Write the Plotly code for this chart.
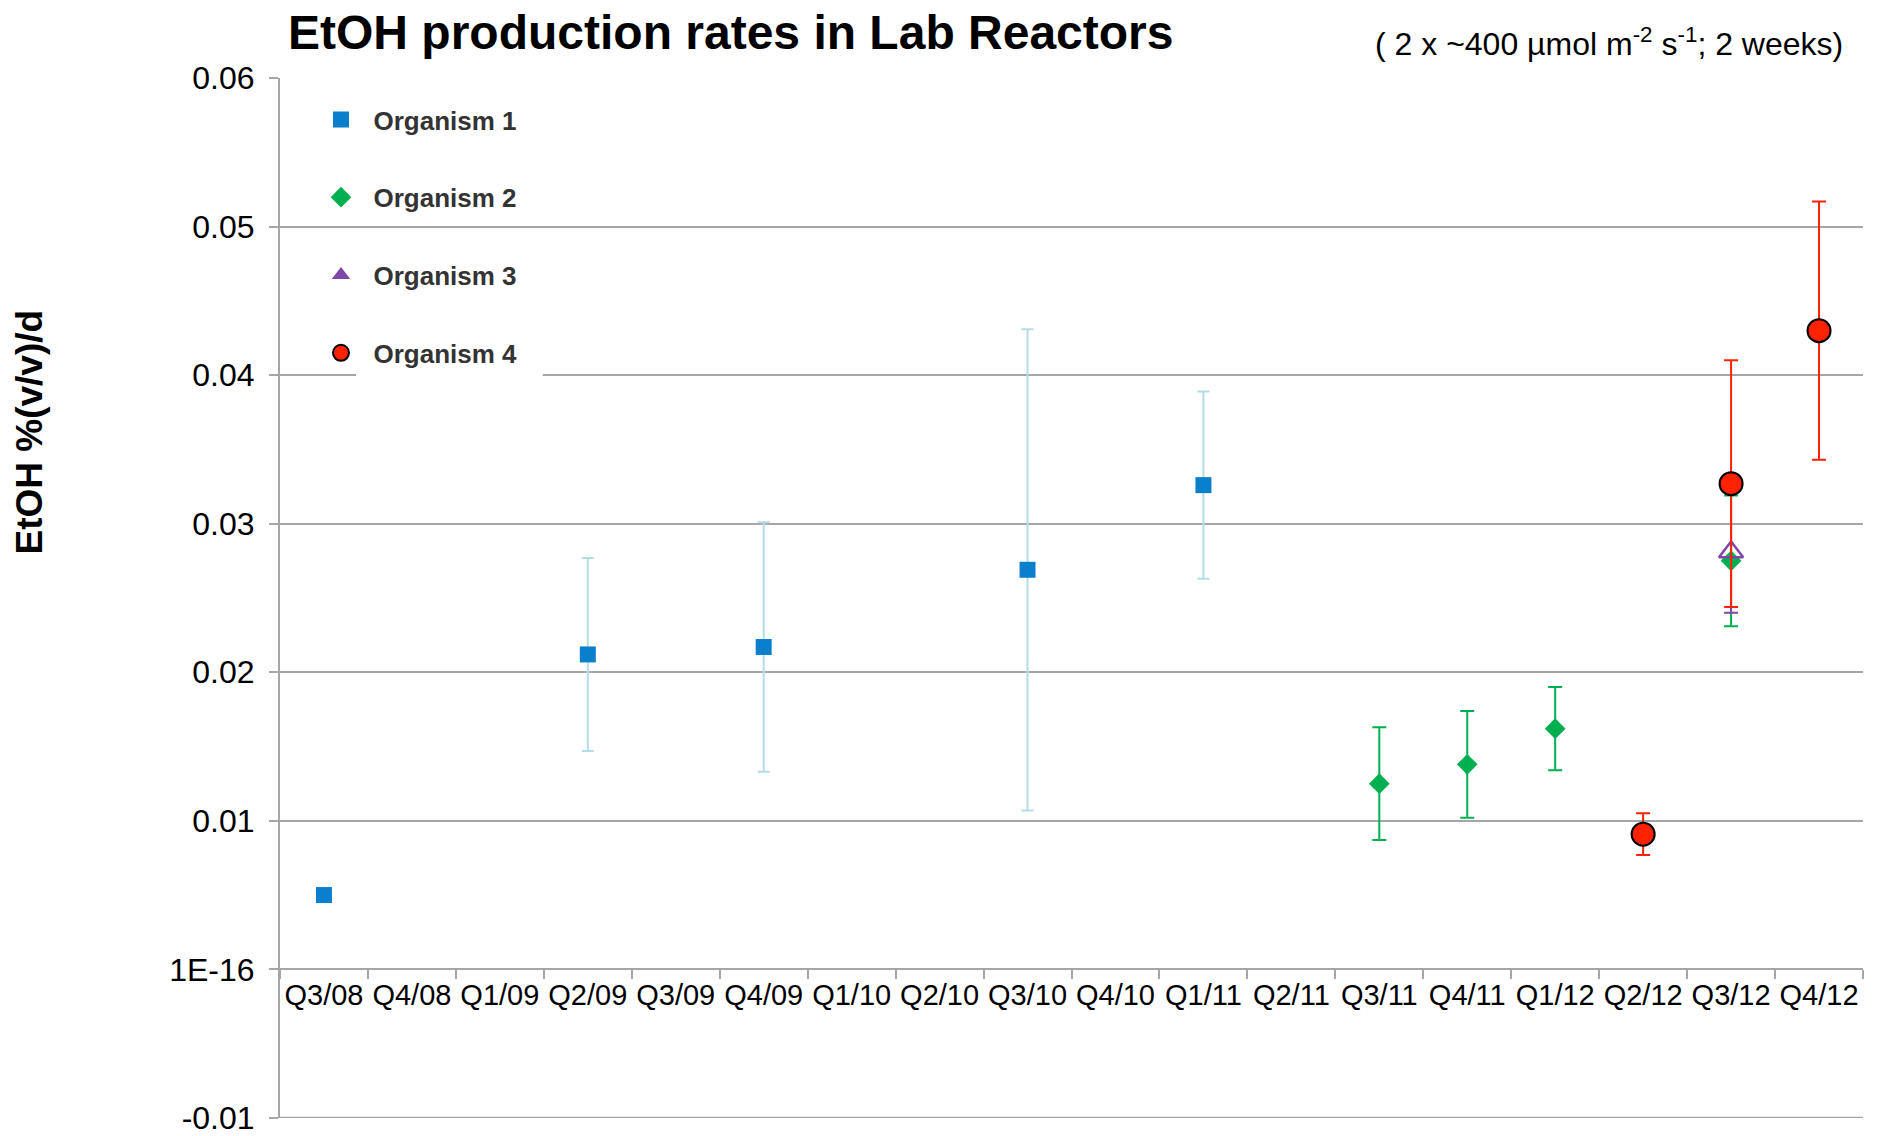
import plotly.graph_objects as go

quarters = ["Q3/08", "Q4/08", "Q1/09", "Q2/09", "Q3/09", "Q4/09", "Q1/10", "Q2/10", "Q3/10",
            "Q4/10", "Q1/11", "Q2/11", "Q3/11", "Q4/11", "Q1/12", "Q2/12", "Q3/12", "Q4/12"]

org1_x = ["Q3/08", "Q2/09", "Q4/09", "Q3/10", "Q1/11"]
org1_y = [0.0050, 0.0212, 0.0217, 0.0269, 0.0326]
org1_err = [None, 0.0065, 0.0084, 0.0162, 0.0063]

org2_x = ["Q3/11", "Q4/11", "Q1/12", "Q3/12"]
org2_y = [0.0125, 0.0138, 0.0162, 0.0275]
org2_err = [0.0038, 0.0036, 0.0028, 0.0044]

org3_x = ["Q3/12"]
org3_y = [0.0281]
org3_err = [0.0041]

org4_x = ["Q2/12", "Q3/12", "Q4/12"]
org4_y = [0.0091, 0.0327, 0.0430]
org4_err = [0.0014, 0.0083, 0.0087]

y_tickvals = [-0.01, 0, 0.01, 0.02, 0.03, 0.04, 0.05, 0.06]
y_ticktext = ["-0.01", "1E-16", "0.01", "0.02", "0.03", "0.04", "0.05", "0.06"]

FONT = "Arial, Liberation Sans, sans-serif"
GRID = "#a6a6a6"
C1, C1E = "#0a7fcc", "#b3dde6"
C2 = "#00b050"
C3 = "#7f48a8"
C4 = "#ff2200"

fig = go.Figure()
fig.add_trace(go.Scatter(
    x=org1_x, y=org1_y, mode="markers", name="Organism 1", legendgroup="g1",
    marker=dict(symbol="square", size=16, color=C1),
    error_y=dict(type="data", array=org1_err, color=C1E, thickness=2, width=6)))
fig.add_trace(go.Scatter(
    x=org2_x, y=org2_y, mode="markers", name="Organism 2", legendgroup="g2",
    marker=dict(symbol="diamond", size=16, color=C2),
    error_y=dict(type="data", array=org2_err, color=C2, thickness=2, width=7)))
fig.add_trace(go.Scatter(
    x=org3_x, y=org3_y, mode="markers", name="Organism 3", legendgroup="g3", showlegend=False,
    marker=dict(symbol="triangle-up-open", size=21, color=C3, line=dict(width=2.5, color=C3)),
    error_y=dict(type="data", array=org3_err, color=C3, thickness=2, width=7)))
fig.add_trace(go.Scatter(
    x=[None], y=[None], mode="markers", name="Organism 3", legendgroup="g3",
    marker=dict(symbol="triangle-up", size=18, color=C3)))
fig.add_trace(go.Scatter(
    x=org4_x, y=org4_y, mode="markers", name="Organism 4", legendgroup="g4",
    marker=dict(symbol="circle", size=23, color=C4, line=dict(width=2, color="black")),
    error_y=dict(type="data", array=org4_err, color=C4, thickness=2, width=7)))

y_range = [-0.01001, 0.06001]
zero_pos = (0 - y_range[0]) / (y_range[1] - y_range[0])

fig.update_layout(
    width=1877, height=1128,
    margin=dict(l=272, r=22, t=70, b=18, autoexpand=False),
    paper_bgcolor="white", plot_bgcolor="white",
    font=dict(family=FONT, color="black"),
    showlegend=True,
    legend=dict(x=0.018, y=0.9827, xanchor="left", yanchor="top",
                bgcolor="rgba(0,0,0,0)", font=dict(size=26, color="#333333", family=FONT, weight="bold"),
                tracegroupgap=41, itemwidth=55, traceorder="grouped"),
    xaxis=dict(type="category", categoryorder="array", categoryarray=quarters,
               range=[-0.5, len(quarters) - 0.5], automargin=False,
               anchor="free", position=zero_pos,
               showline=True, linecolor=GRID, linewidth=2, tickangle=0,
               ticks="outside", tickson="boundaries", ticklen=9, tickcolor=GRID, tickwidth=2,
               showgrid=False, tickfont=dict(size=29, color="black", family=FONT)),
    yaxis=dict(range=y_range, tickvals=y_tickvals, ticktext=y_ticktext, automargin=False,
               showline=True, linecolor=GRID, linewidth=2, ticklabelstandoff=8,
               ticklabeloverflow="allow",
               ticks="outside", ticklen=9, tickcolor=GRID, tickwidth=2,
               showgrid=True, gridcolor=GRID, gridwidth=2, zeroline=False,
               tickfont=dict(size=32, color="black", family=FONT)),
    annotations=[
        dict(text="<b>EtOH production rates in Lab Reactors</b>", xref="paper", yref="paper",
             x=0.0038, y=1.044, xanchor="left", yanchor="middle", showarrow=False,
             font=dict(size=48, color="black", family=FONT)),
        dict(text="( 2 x ~400 µmol m<sup>-2</sup> s<sup>-1</sup>; 2 weeks)", xref="paper", yref="paper",
             x=0.9886, y=1.0346, xanchor="right", yanchor="middle", showarrow=False,
             font=dict(size=32, color="black", family=FONT)),
        dict(text="<b>EtOH %(v/v)/d</b>", xref="paper", yref="paper", textangle=-90,
             x=-0.158, y=0.66, xanchor="center", yanchor="middle", showarrow=False,
             font=dict(size=37, color="black", family=FONT)),
    ],
    shapes=[
        dict(type="rect", xref="paper", yref="y", layer="above",
             x0=0.048, x1=0.166, y0=0.0398, y1=0.0402,
             fillcolor="white", line=dict(width=0)),
        dict(type="line", xref="paper", yref="y", layer="below",
             x0=0, x1=1, y0=y_tickvals[0], y1=y_tickvals[0],
             line=dict(color=GRID, width=2)),
    ],
)

fig.write_html("out.html")
